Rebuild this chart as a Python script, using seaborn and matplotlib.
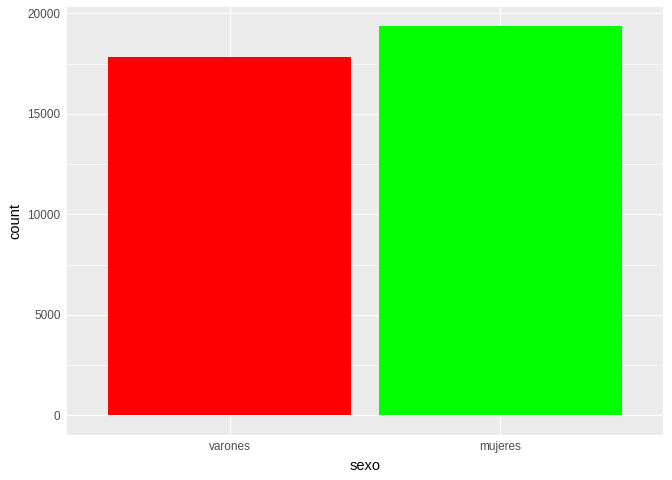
import matplotlib
matplotlib.use("Agg")
import matplotlib.pyplot as plt
import seaborn as sns
import pandas as pd
from matplotlib.ticker import MultipleLocator

sns.set_style("darkgrid")
plt.rcParams['font.family'] = ['Liberation Sans', 'DejaVu Sans']

sexo = ["varones", "mujeres"]
conteo = [17830, 19370]
colores = ["#FF0000", "#00FF00"]

data = pd.DataFrame({"sexo": sexo, "count": conteo})

fig = plt.figure(figsize=(6.72, 4.8), dpi=100)
ax = fig.add_axes([67/672, 1-434.7/480, (663-67)/672, (434.7-6.7)/480])
ax.set_facecolor("#EBEBEB")

sns.barplot(data=data, x="sexo", y="count", hue="sexo", palette=colores,
            saturation=1, width=0.9, legend=False, ax=ax, zorder=3,
            linewidth=0, edgecolor="none")

top = max(conteo)
ax.set_xlim(-0.6, len(sexo) - 0.4)
ax.set_ylim(-0.05 * top, 1.05 * top)
ax.yaxis.set_major_locator(MultipleLocator(5000))
ax.yaxis.set_minor_locator(MultipleLocator(2500))

ax.grid(which="major", color="white", linewidth=0.8, zorder=0)
ax.grid(which="minor", axis="y", color="white", linewidth=0.45, zorder=0)
ax.set_axisbelow(True)
for s in ax.spines.values():
    s.set_visible(False)

ax.tick_params(which="major", length=2.64, width=0.8, color="#333333",
               labelcolor="#4D4D4D", labelsize=8.45, pad=2)
ax.tick_params(which="minor", length=0)
ax.set_xlabel("sexo", fontsize=10.56, color="black", labelpad=4)
ax.set_ylabel("count", fontsize=10.56, color="black", labelpad=4)

fig.savefig("out.png", dpi=100)
